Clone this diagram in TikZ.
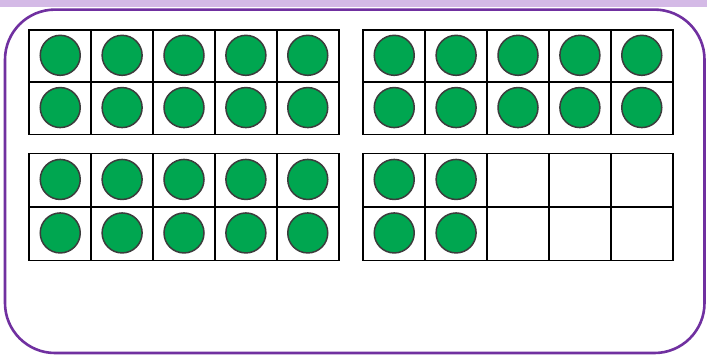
\documentclass[tikz,border=0pt]{standalone}
\definecolor{lav}{RGB}{212,186,230}
\definecolor{purp}{RGB}{112,48,160}
\definecolor{cgreen}{RGB}{0,166,80}
\definecolor{cring}{RGB}{60,60,60}
\tikzset{
  framebox/.style={draw=black,line width=1.8pt},
  gridline/.style={draw=black,line width=1.8pt},
  counter/.style={circle,fill=cgreen,draw=cring,line width=1.5pt,minimum size=40pt,inner sep=0pt},
}
\begin{document}
\begin{tikzpicture}[x=1pt,y=-1pt]
\useasboundingbox (0,0) rectangle (707,355);
\fill[white] (0,0) rectangle (707,355);
\fill[lav] (0,0) rectangle (707,7.5);
\draw[purp,line width=2.6pt,rounded corners=50pt] (5,9.6) rectangle (704.5,353);
% frames: name/x0/y0/count
\foreach \nm/\xa/\ya/\n in {a/29.3/30/10, b/363.3/30/10, c/29.3/153.5/10, d/363.3/153.5/4}{
  \pgfmathsetmacro{\cw}{309.4/5}
  \pgfmathsetmacro{\ch}{\ya<100 ? 104.5/2 : 107/2}
  \foreach \i in {1,2,3,4}{
    \draw[gridline] ({\xa+\i*\cw},\ya) -- ({\xa+\i*\cw},{\ya+2*\ch});
  }
  \draw[gridline] (\xa,{\ya+\ch}) -- ({\xa+5*\cw},{\ya+\ch});
  \draw[framebox] (\xa,\ya) rectangle ({\xa+5*\cw},{\ya+2*\ch});
  \ifnum\n=10
    \foreach \r in {0,1}{\foreach \c in {0,...,4}{
      \node[counter] (\nm-\r-\c) at ({\xa+(\c+0.5)*\cw},{\ya+(\r+0.5)*\ch-0.8}) {};
    }}
  \else
    \foreach \r in {0,1}{\foreach \c in {0,1}{
      \node[counter] (\nm-\r-\c) at ({\xa+(\c+0.5)*\cw},{\ya+(\r+0.5)*\ch-0.8}) {};
    }}
  \fi
}
\end{tikzpicture}
\end{document}
